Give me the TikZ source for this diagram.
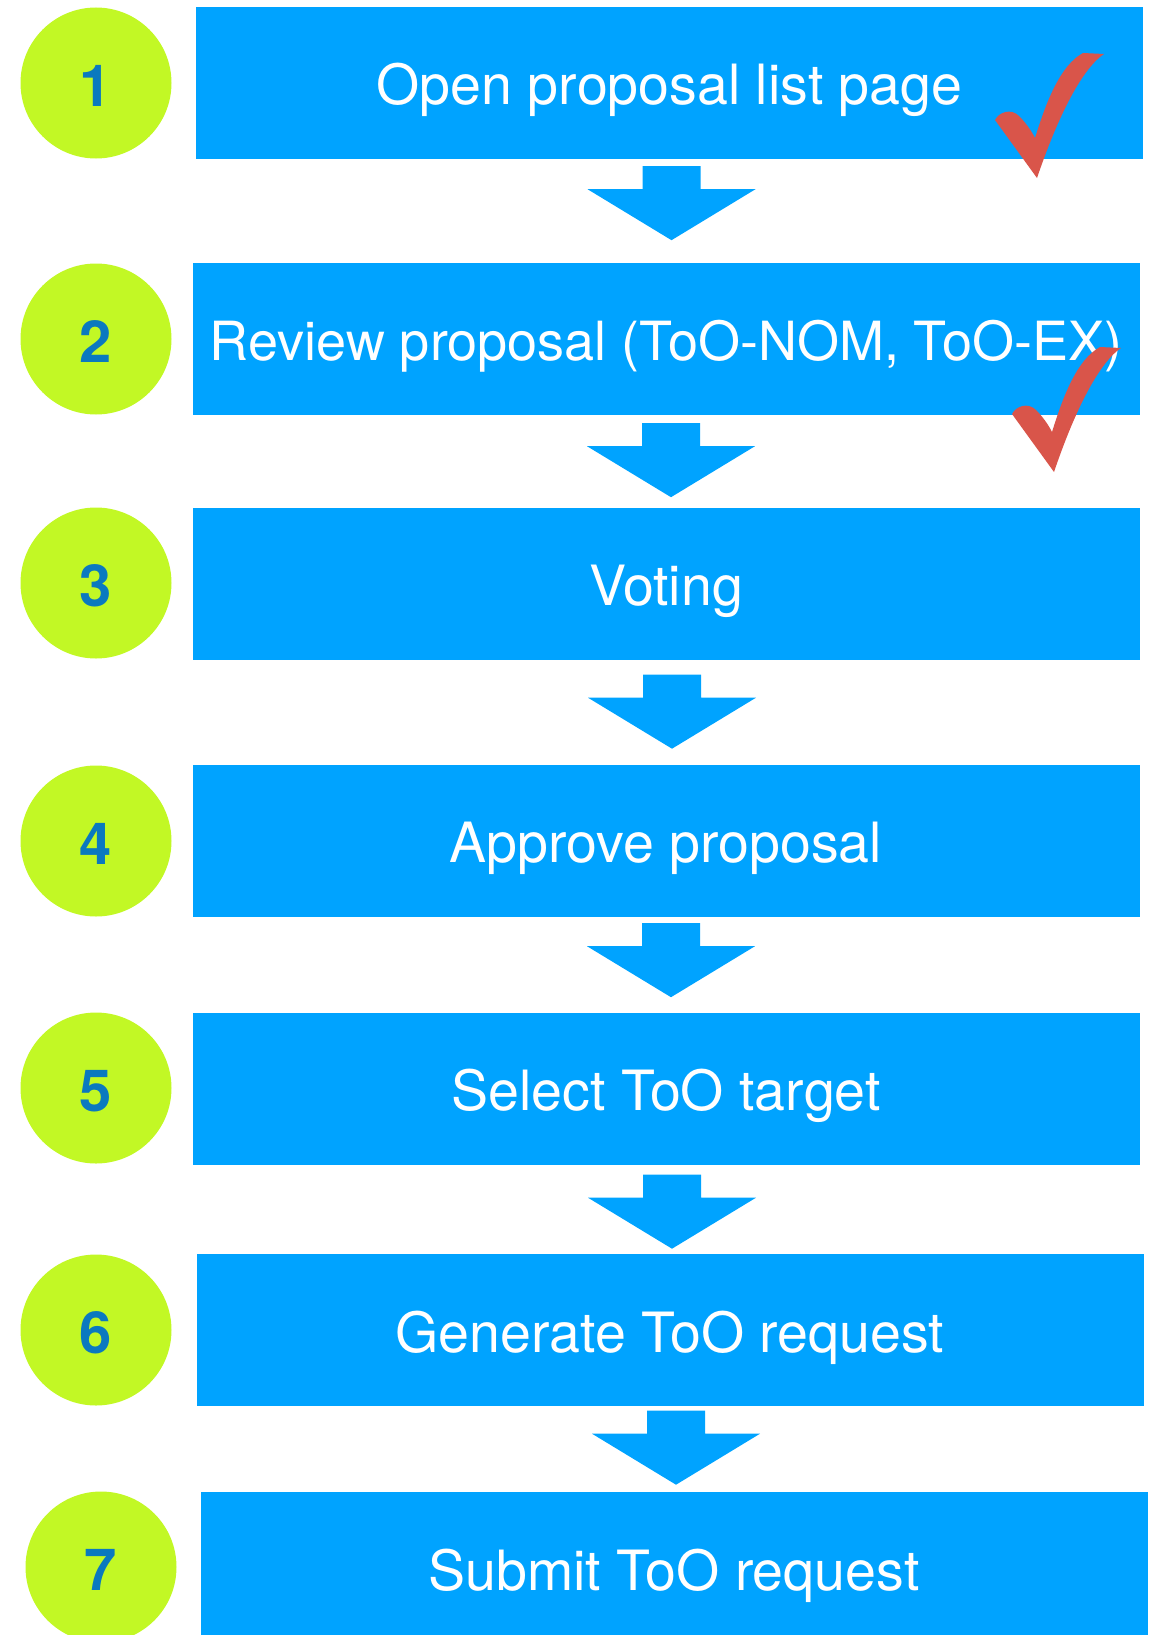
\documentclass[tikz,border=0pt]{standalone}
\usepackage{fontspec}
\setmainfont{TeX Gyre Heros}
\usetikzlibrary{calc}

\definecolor{boxblue}{HTML}{00A3FF}
\definecolor{circgreen}{HTML}{C2F825}
\definecolor{numblue}{HTML}{0A79BF}
\definecolor{checkred}{HTML}{D9554A}

\tikzset{
  stepbox/.style={rectangle,fill=boxblue,text=white,inner sep=0pt,
    minimum width=947pt,minimum height=152pt,text height=44pt,text depth=0pt,
    font=\fontsize{55.5}{60}\selectfont},
  numcirc/.style={circle,fill=circgreen,text=numblue,inner sep=0pt,
    minimum size=151pt,text height=47pt,text depth=0pt,
    font=\fontsize{58}{60}\selectfont\bfseries},
  flowarrow/.pic={
    \fill[boxblue] (-29,-37) -- (29,-37) -- (29,-14) -- (84,-14) -- (0,37)
      -- (-84,-14) -- (-29,-14) -- cycle;},
  redcheck/.pic={
    \fill[checkred] (0,0) -- (-42,-58) .. controls (-38,-66) and (-26,-70) .. (-18,-62)
      .. controls (-12,-56) and (-6,-48) .. (-2,-40)
      .. controls (8,-72) and (22,-112) .. (46,-125) -- (67,-124)
      .. controls (46,-110) and (22,-65) .. (0,0) -- cycle;}
}

\begin{document}
\begin{tikzpicture}[x=1pt,y=-1pt]
\useasboundingbox (0,0) rectangle (1162,1635);
% steps
\node[stepbox] (s1) at (669.5,83) {Open proposal list page};
\node[stepbox,font=\fontsize{54}{60}\selectfont] (s2) at (666,338.5) {Review proposal (ToO-NOM, ToO-EX)};
\node[stepbox] (s3) at (666,583.5) {Voting};
\node[stepbox] (s4) at (666,840.5) {Approve proposal};
\node[stepbox] (s5) at (666,1088.5) {Select ToO target};
\node[stepbox] (s6) at (670,1330) {Generate ToO request};
\node[stepbox] (s7) at (674,1568) {Submit ToO request};
% numbers
\node[numcirc] (c1) at (96,83) {1};
\node[numcirc] (c2) at (96,339) {2};
\node[numcirc] (c3) at (96,583) {3};
\node[numcirc] (c4) at (96,841) {4};
\node[numcirc] (c5) at (96,1088) {5};
\node[numcirc] (c6) at (96,1330) {6};
\node[numcirc] (c7) at (101,1567) {7};
% arrows below each step
\foreach \i/\off/\dx in {1/44/2,2/45.5/5,3/52/6,4/43.5/5,5/47/6,6/41.5/6}
  \pic at ($(s\i.south)+(\dx,\off)$) {flowarrow};
% ticks
\pic at (1037,178) {redcheck};
\pic at (1054,472) {redcheck};
\end{tikzpicture}
\end{document}
